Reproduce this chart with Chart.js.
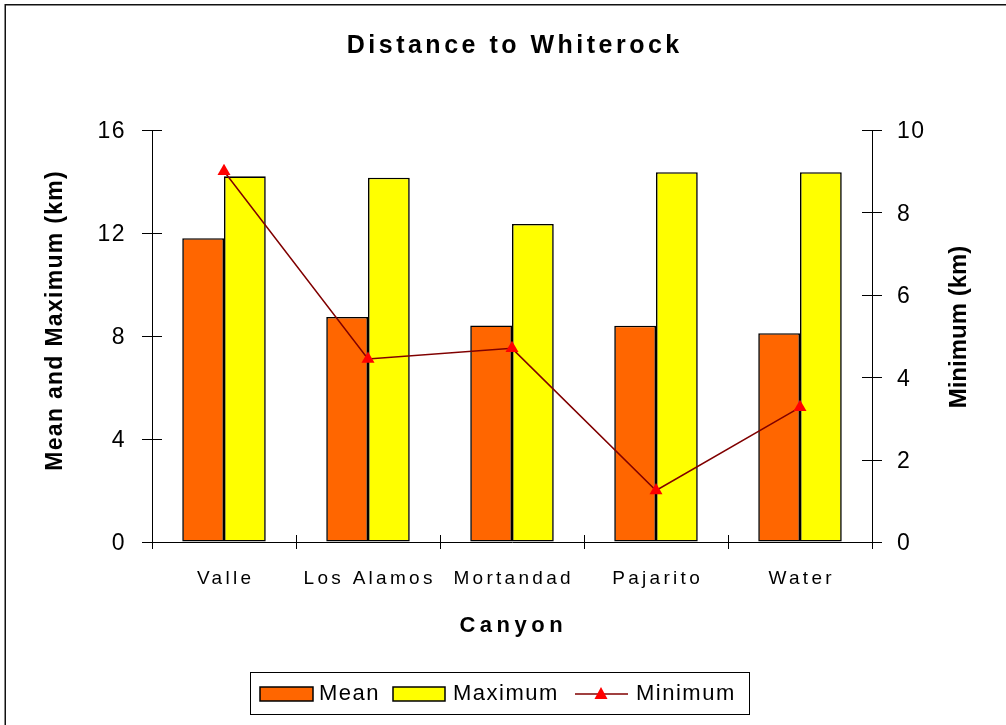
<!DOCTYPE html>
<html>
<head>
<meta charset="utf-8">
<script src="https://cdn.jsdelivr.net/npm/chart.js@4.4.1/dist/chart.umd.min.js"></script>
<style>
  html, body { margin: 0; padding: 0; background: #fff; }
  canvas { display: block; }
</style>
</head>
<body>
<canvas id="c" width="1006" height="725"></canvas>
<script>
// ---- data ----
const categories = ['Valle', 'Los Alamos', 'Mortandad', 'Pajarito', 'Water'];
const meanValues = [11.8, 8.74, 8.41, 8.4, 8.11];
const maxValues = [14.2, 14.15, 12.35, 14.36, 14.36];
const minValues = [9.0, 4.44, 4.70, 1.25, 3.27];
const leftTicks = [0, 4, 8, 12, 16];
const rightTicks = [0, 2, 4, 6, 8, 10];
const chartTitle = 'Distance to Whiterock';
const xTitle = 'Canyon';
const yLeftTitle = 'Mean and Maximum (km)';
const yRightTitle = 'Minimum (km)';

const FONT = "'Liberation Sans', Arial, Helvetica, sans-serif";

function spacedText(ctx, text, x, y, spacing, align) {
  ctx.letterSpacing = '0px';
  const n = [...text].length;
  const w = ctx.measureText(text).width + spacing * (n - 1);
  ctx.letterSpacing = spacing + 'px';
  let sx = x;
  if (align === 'center') sx = x - w / 2;
  else if (align === 'right') sx = x - w;
  ctx.textAlign = 'left';
  ctx.fillText(text, sx, y);
  ctx.letterSpacing = '0px';
  return w;
}

const decorPlugin = {
  id: 'decor',
  beforeDraw(chart) {
    chart.ctx.letterSpacing = '1.5px';
  },
  afterDraw(chart) {
    const ctx = chart.ctx;
    const xs = chart.scales.x, yl = chart.scales.y, yr = chart.scales.y1;
    ctx.save();
    ctx.letterSpacing = '0px';

    // outer frame
    ctx.strokeStyle = '#111';
    ctx.lineWidth = 1.5;
    ctx.strokeRect(5.25, 4.75, 1200, 900);

    // tick marks crossing the axes
    ctx.strokeStyle = '#000';
    ctx.lineWidth = 1;
    ctx.beginPath();
    yl.ticks.forEach(t => {
      const py = Math.round(yl.getPixelForValue(t.value)) + 0.5;
      ctx.moveTo(yl.right - 10, py); ctx.lineTo(yl.right + 10, py);
    });
    yr.ticks.forEach(t => {
      const py = Math.round(yr.getPixelForValue(t.value)) + 0.5;
      ctx.moveTo(yr.left - 10, py); ctx.lineTo(yr.left + 10, py);
    });
    for (let i = 0; i <= categories.length; i++) {
      const px = Math.round(xs.getPixelForValue(i - 0.5)) + 0.5;
      ctx.moveTo(px, xs.top - 7); ctx.lineTo(px, xs.top + 7);
    }
    ctx.stroke();

    ctx.fillStyle = '#000';
    ctx.textBaseline = 'alphabetic';

    // category labels
    ctx.font = `19px ${FONT}`;
    xs.ticks.forEach((t, i) => {
      const px = xs.getPixelForTick(i);
      spacedText(ctx, xs.getLabelForValue(t.value), px, 583.5, 3.3, 'center');
    });

    // title
    ctx.font = `bold 25px ${FONT}`;
    spacedText(ctx, chartTitle, 513, 53, 3.5, 'center');

    // x axis title
    ctx.font = `bold 22px ${FONT}`;
    spacedText(ctx, xTitle, 511, 632, 4.5, 'center');

    // left axis title
    ctx.save();
    ctx.translate(62, 321);
    ctx.rotate(-Math.PI / 2);
    ctx.font = `bold 23px ${FONT}`;
    spacedText(ctx, yLeftTitle, 0, 0, 1.3, 'center');
    ctx.restore();

    // right axis title
    ctx.save();
    ctx.translate(966, 327);
    ctx.rotate(-Math.PI / 2);
    ctx.font = `bold 24px ${FONT}`;
    spacedText(ctx, yRightTitle, 0, 0, 0, 'center');
    ctx.restore();

    // legend
    ctx.strokeStyle = '#000';
    ctx.lineWidth = 1;
    ctx.strokeRect(250.5, 672.5, 499, 42);
    const ds = chart.data.datasets;
    ctx.font = `22px ${FONT}`;
    // Mean
    ctx.fillStyle = ds[0].backgroundColor;
    ctx.fillRect(260, 687, 53, 14);
    ctx.lineWidth = 1.5;
    ctx.strokeRect(260, 687, 53, 14);
    ctx.fillStyle = '#000';
    spacedText(ctx, ds[0].label, 319, 700, 1.5, 'left');
    // Maximum
    ctx.fillStyle = ds[1].backgroundColor;
    ctx.fillRect(393, 687, 52, 14);
    ctx.strokeRect(393, 687, 52, 14);
    ctx.fillStyle = '#000';
    spacedText(ctx, ds[1].label, 453, 700, 1.5, 'left');
    // Minimum
    ctx.strokeStyle = ds[2].borderColor;
    ctx.lineWidth = 1.5;
    ctx.beginPath();
    ctx.moveTo(575, 694); ctx.lineTo(628, 694);
    ctx.stroke();
    ctx.fillStyle = ds[2].pointBackgroundColor;
    ctx.beginPath();
    ctx.moveTo(601, 687); ctx.lineTo(607.5, 699); ctx.lineTo(594.5, 699);
    ctx.closePath();
    ctx.fill();
    ctx.fillStyle = '#000';
    spacedText(ctx, ds[2].label, 636, 700, 1.5, 'left');

    ctx.restore();
  }
};

const ctx = document.getElementById('c').getContext('2d');
new Chart(ctx, {
  data: {
    labels: categories,
    datasets: [
      {
        type: 'bar', label: 'Mean', data: meanValues, yAxisID: 'y',
        backgroundColor: '#FF6600', borderColor: '#000', borderWidth: 1.6,
        borderSkipped: false, categoryPercentage: 0.58, barPercentage: 1.0, order: 2
      },
      {
        type: 'bar', label: 'Maximum', data: maxValues, yAxisID: 'y',
        backgroundColor: '#FFFF00', borderColor: '#000', borderWidth: 1.6,
        borderSkipped: false, categoryPercentage: 0.58, barPercentage: 1.0, order: 2
      },
      {
        type: 'line', label: 'Minimum', data: minValues, yAxisID: 'y1',
        borderColor: '#800000', borderWidth: 1.5, tension: 0,
        pointStyle: 'triangle', pointRadius: 7.5, pointHoverRadius: 7.5,
        pointBackgroundColor: '#FF0000', pointBorderColor: '#FF0000', pointBorderWidth: 0,
        order: 1
      }
    ]
  },
  options: {
    responsive: false,
    animation: false,
    events: [],
    layout: { padding: { left: 0, right: 0, top: 130, bottom: 0 } },
    plugins: {
      legend: { display: false },
      title: { display: false },
      tooltip: { enabled: false }
    },
    scales: {
      x: {
        type: 'category',
        offset: true,
        grid: { display: true, drawOnChartArea: false, drawTicks: false, tickLength: 0 },
        border: { display: true, color: '#000', width: 1 },
        ticks: { display: false, autoSkip: false, maxRotation: 0 },
        afterFit(s) { s.height = 183; }
      },
      y: {
        position: 'left',
        min: 0, max: 16,
        afterBuildTicks(s) { s.ticks = leftTicks.map(v => ({ value: v })); },
        grid: { display: true, drawOnChartArea: false, drawTicks: false, tickLength: 0 },
        border: { display: true, color: '#000', width: 1 },
        ticks: { color: '#000', padding: 26, labelOffset: 2, autoSkip: false, font: { family: FONT, size: 23 } },
        afterFit(s) { s.width = 152; }
      },
      y1: {
        position: 'right',
        min: 0, max: 10,
        afterBuildTicks(s) { s.ticks = rightTicks.map(v => ({ value: v })); },
        grid: { display: true, drawOnChartArea: false, drawTicks: false, tickLength: 0 },
        border: { display: true, color: '#000', width: 1 },
        ticks: { color: '#000', padding: 25, labelOffset: 2, autoSkip: false, font: { family: FONT, size: 23 } },
        afterFit(s) { s.width = 134; }
      }
    }
  },
  plugins: [decorPlugin]
});
</script>
</body>
</html>
